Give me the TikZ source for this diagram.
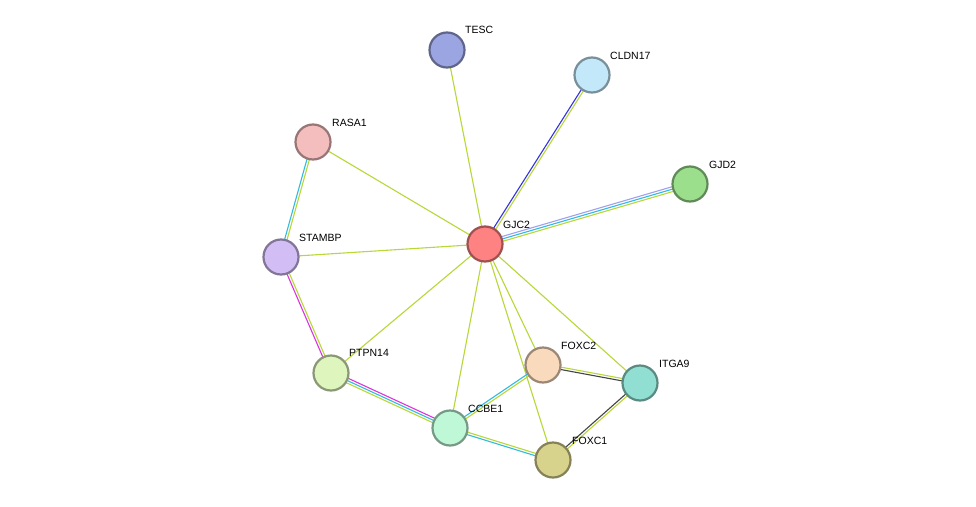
\documentclass[tikz,border=0pt]{standalone}
\usetikzlibrary{calc}
\usepackage{fontspec}
\setmainfont{Liberation Sans}
\definecolor{yg}{HTML}{B8D838}
\definecolor{cy}{HTML}{33BBDD}
\definecolor{mg}{HTML}{DD33DD}
\definecolor{bl}{HTML}{3333DD}
\definecolor{lv}{HTML}{A0A0F0}
\definecolor{dg}{HTML}{444444}
\definecolor{cGJC2}{RGB}{255,130,130}
\definecolor{cTESC}{RGB}{155,165,225}
\definecolor{cCLDN17}{RGB}{195,232,250}
\definecolor{cGJD2}{RGB}{155,222,140}
\definecolor{cRASA1}{RGB}{245,190,190}
\definecolor{cSTAMBP}{RGB}{210,190,245}
\definecolor{cPTPN14}{RGB}{222,245,190}
\definecolor{cCCBE1}{RGB}{190,248,215}
\definecolor{cFOXC2}{RGB}{250,218,188}
\definecolor{cITGA9}{RGB}{145,222,210}
\definecolor{cFOXC1}{RGB}{215,210,140}
\newcommand{\pe}[4]{\draw[#4,line width=1.1pt] ($(#1)!#3!90:(#2)$) -- ($(#2)!#3!-90:(#1)$);}
\tikzset{prot/.style={circle,fill=#1,draw=#1!62!black,line width=2.2pt,minimum size=35pt,inner sep=0pt},
 lab/.style={anchor=south west,font=\fontsize{10.5}{11}\selectfont,inner sep=0pt}}
\begin{document}
\begin{tikzpicture}[x=1pt,y=-1pt]
\useasboundingbox (0,0) rectangle (976,506);
\fill[white] (0,0) rectangle (976,506);
\coordinate (GJC2) at (485,244);
\coordinate (TESC) at (447,50);
\coordinate (CLDN17) at (592,75);
\coordinate (GJD2) at (690,184);
\coordinate (RASA1) at (313,142);
\coordinate (STAMBP) at (281,257);
\coordinate (PTPN14) at (331,373);
\coordinate (CCBE1) at (450,428);
\coordinate (FOXC2) at (543,365);
\coordinate (ITGA9) at (640,383);
\coordinate (FOXC1) at (553,460);
\foreach \t in {TESC,RASA1,STAMBP,PTPN14,CCBE1,FOXC2,FOXC1,ITGA9}{\pe{GJC2}{\t}{0pt}{yg}}
\pe{GJC2}{CLDN17}{1.2pt}{bl}\pe{GJC2}{CLDN17}{-1.2pt}{yg}
\pe{GJC2}{GJD2}{2.4pt}{lv}\pe{GJC2}{GJD2}{0pt}{cy}\pe{GJC2}{GJD2}{-2.4pt}{yg}
\pe{RASA1}{STAMBP}{1.2pt}{yg}\pe{RASA1}{STAMBP}{-1.2pt}{cy}
\pe{STAMBP}{PTPN14}{1.2pt}{yg}\pe{STAMBP}{PTPN14}{-1.2pt}{mg}
\pe{PTPN14}{CCBE1}{2.4pt}{mg}\pe{PTPN14}{CCBE1}{0pt}{cy}\pe{PTPN14}{CCBE1}{-2.4pt}{yg}
\pe{CCBE1}{FOXC2}{1.2pt}{cy}\pe{CCBE1}{FOXC2}{-1.2pt}{yg}
\pe{CCBE1}{FOXC1}{1.2pt}{yg}\pe{CCBE1}{FOXC1}{-1.2pt}{cy}
\pe{FOXC2}{ITGA9}{1.2pt}{yg}\pe{FOXC2}{ITGA9}{-1.2pt}{dg}
\pe{ITGA9}{FOXC1}{1.2pt}{yg}\pe{ITGA9}{FOXC1}{-1.2pt}{dg}
\foreach \t in {GJC2,TESC,CLDN17,GJD2,RASA1,STAMBP,PTPN14,CCBE1,FOXC2,ITGA9,FOXC1}{\node[prot=c\t] (n\t) at (\t) {};}
\node[lab] at (503,229) {GJC2};
\node[lab] at (465,34) {TESC};
\node[lab] at (610,60) {CLDN17};
\node[lab] at (709,169) {GJD2};
\node[lab] at (332,127) {RASA1};
\node[lab] at (299,242) {STAMBP};
\node[lab] at (349,357) {PTPN14};
\node[lab] at (468,413) {CCBE1};
\node[lab] at (561,350) {FOXC2};
\node[lab] at (659,368) {ITGA9};
\node[lab] at (572,445) {FOXC1};
\end{tikzpicture}
\end{document}
